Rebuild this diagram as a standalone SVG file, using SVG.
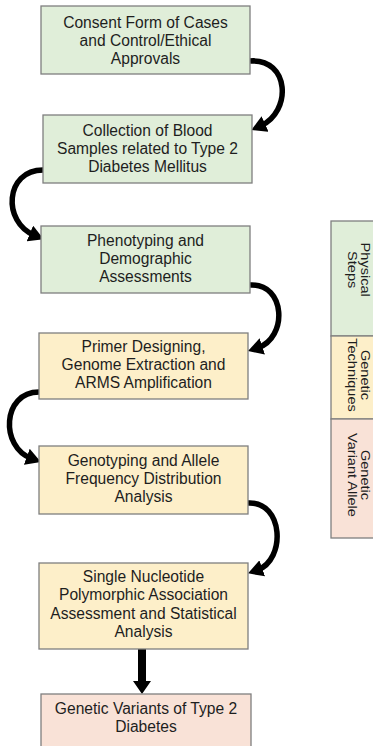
<svg xmlns="http://www.w3.org/2000/svg" width="373" height="746" viewBox="0 0 373 746">
<style>
.box{stroke:#7f7f7f;stroke-width:1.3}
.g{fill:#e0eed9}
.y{fill:#fdefc9}
.p{fill:#f9e2d7}
.t{font-family:"Liberation Sans",Arial,sans-serif;font-size:15.6px;fill:#1e1e1e;text-anchor:middle}
.lt{font-family:"Liberation Sans",Arial,sans-serif;font-size:13px;fill:#1e1e1e;text-anchor:middle}
.arc{fill:none;stroke:#000;stroke-width:5.5}
</style>
<defs>
<marker id="ah" markerUnits="userSpaceOnUse" markerWidth="15" markerHeight="17" viewBox="0 0 15 17" refX="5" refY="8.5" orient="auto">
<path d="M0,0 L15,8.5 L0,17 Z" fill="#000"/>
</marker>
</defs>
<rect width="373" height="746" fill="#fff"/>
<g id="connectors">
<path class="arc" d="M250 61 C290 58 292 112 260.5 126" marker-end="url(#ah)"/>
<path class="arc" d="M43 170 C5 170 2 222 34.5 235.4" marker-end="url(#ah)"/>
<path class="arc" d="M250 285 C286 283 288 338 257.5 348" marker-end="url(#ah)"/>
<path class="arc" d="M39 392 C2 392 0 447 31.5 458.5" marker-end="url(#ah)"/>
<path class="arc" d="M248 503 C284 501 286 560 257.5 570" marker-end="url(#ah)"/>
<path d="M138 649 L146 649 L146 681 L151 681 L142 694 L133 681 L138 681 Z" fill="#000"/>
</g>
<g id="n1">
<rect class="box g" x="41" y="6" width="209" height="68"/>
<text class="t" x="145.5" y="27.5">Consent Form of Cases</text>
<text class="t" x="145.5" y="45.5">and Control/Ethical</text>
<text class="t" x="145.5" y="63.5">Approvals</text>
</g>
<g id="n2">
<rect class="box g" x="43" y="115" width="209" height="68"/>
<text class="t" x="147.5" y="135.5">Collection of Blood</text>
<text class="t" x="147.5" y="153.5">Samples related to Type 2</text>
<text class="t" x="147.5" y="171.5">Diabetes Mellitus</text>
</g>
<g id="n3">
<rect class="box g" x="41" y="226" width="209" height="67"/>
<text class="t" x="145.5" y="245.5">Phenotyping and</text>
<text class="t" x="145.5" y="263.5">Demographic</text>
<text class="t" x="145.5" y="281.5">Assessments</text>
</g>
<g id="n4">
<rect class="box y" x="39" y="333" width="209" height="66"/>
<text class="t" x="143.5" y="351.5">Primer Designing,</text>
<text class="t" x="143.5" y="369.5">Genome Extraction and</text>
<text class="t" x="143.5" y="387.5">ARMS Amplification</text>
</g>
<g id="n5">
<rect class="box y" x="39" y="446" width="209" height="68"/>
<text class="t" x="143.5" y="466">Genotyping and Allele</text>
<text class="t" x="143.5" y="484">Frequency Distribution</text>
<text class="t" x="143.5" y="502">Analysis</text>
</g>
<g id="n6">
<rect class="box y" x="39" y="563" width="209" height="86"/>
<text class="t" x="143.5" y="581.5">Single Nucleotide</text>
<text class="t" x="143.5" y="600">Polymorphic Association</text>
<text class="t" x="143.5" y="618.5">Assessment and Statistical</text>
<text class="t" x="143.5" y="637">Analysis</text>
</g>
<g id="n7">
<rect class="box p" x="41" y="694" width="210" height="70"/>
<text class="t" x="146" y="714">Genetic Variants of Type 2</text>
<text class="t" x="146" y="732">Diabetes</text>
</g>
<g id="legend">
<rect class="box g" x="331" y="221" width="50" height="115"/>
<rect class="box y" x="331" y="336" width="50" height="83"/>
<rect class="box p" x="331" y="419" width="50" height="119"/>
<text class="lt" transform="translate(361 269.7) rotate(90) scale(1.12 1)">Physical</text>
<text class="lt" transform="translate(347.5 269.7) rotate(90) scale(1.12 1)">Steps</text>
<text class="lt" transform="translate(361 375) rotate(90) scale(1.12 1)">Genetic</text>
<text class="lt" transform="translate(347.5 375) rotate(90) scale(1.12 1)">Techniques</text>
<text class="lt" transform="translate(361 475) rotate(90) scale(1.12 1)">Genetic</text>
<text class="lt" transform="translate(347.5 475) rotate(90) scale(1.12 1)">Variant Allele</text>
</g>
</svg>
